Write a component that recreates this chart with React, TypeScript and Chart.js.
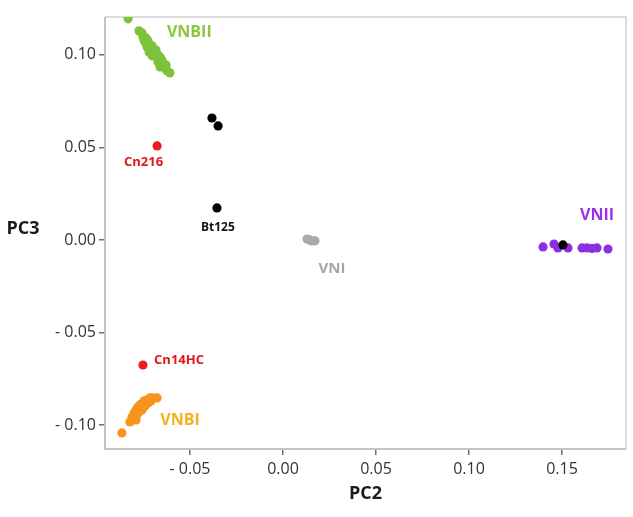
import React, { useEffect, useRef } from "react";
import { Chart, registerables } from "chart.js";

Chart.register(...registerables);

// ---- data (PC2, PC3) ----
const vnbiiX = [-0.0833, -0.0774, -0.0758, -0.0753, -0.0737, -0.0742, -0.0726, -0.0715, -0.0731, -0.0710, -0.0699, -0.0720, -0.0694, -0.0683, -0.0704, -0.0677, -0.0667, -0.0672, -0.0656, -0.0645, -0.0661, -0.0634, -0.0624, -0.0608, -0.0672, -0.0747, -0.0704, -0.0683, -0.0661, -0.0651, -0.0629];
const vnbiiY = [0.1195, 0.1130, 0.1119, 0.1097, 0.1092, 0.1070, 0.1076, 0.1054, 0.1043, 0.1038, 0.1027, 0.1016, 0.1005, 0.1011, 0.0995, 0.0984, 0.0973, 0.0962, 0.0957, 0.0941, 0.0935, 0.0930, 0.0914, 0.0903, 0.1000, 0.1081, 0.1049, 0.1027, 0.0989, 0.0973, 0.0946];

const vnbiX = [-0.0866, -0.0823, -0.0812, -0.0801, -0.0790, -0.0780, -0.0769, -0.0758, -0.0747, -0.0731, -0.0715, -0.0699, -0.0677, -0.0806, -0.0785, -0.0763, -0.0796, -0.0742, -0.0774, -0.0726, -0.0758, -0.0737, -0.0790, -0.0710];
const vnbiY = [-0.1043, -0.0984, -0.0957, -0.0935, -0.0919, -0.0903, -0.0892, -0.0886, -0.0870, -0.0865, -0.0854, -0.0854, -0.0854, -0.0973, -0.0946, -0.0919, -0.0962, -0.0897, -0.0930, -0.0881, -0.0919, -0.0886, -0.0973, -0.0870];

const vniiX = [0.1398, 0.1457, 0.1478, 0.1532, 0.1608, 0.1634, 0.1661, 0.1688, 0.1747];
const vniiY = [-0.0038, -0.0022, -0.0043, -0.0043, -0.0043, -0.0043, -0.0046, -0.0043, -0.0049];

const vniX = [0.0129, 0.0145, 0.0161, 0.0172, 0.0150];
const vniY = [0.0005, 0.0000, -0.0005, -0.0005, -0.0005];

const redX = [-0.0677, -0.0753];
const redY = [0.0508, -0.0676];

const blackX = [-0.0382, -0.0349, -0.0355, 0.1505];
const blackY = [0.0659, 0.0616, 0.0173, -0.0027];

// ---- axes ----
const xTicks = [-0.05, 0.0, 0.05, 0.1, 0.15];
const yTicks = [-0.1, -0.05, 0.0, 0.05, 0.1];
const xRange = [-0.0957, 0.1844];
const yRange = [-0.113, 0.1205];
const xTitle = "PC2";
const yTitle = "PC3";

// ---- annotation labels ----
const labelText = ["VNBII", "Cn216", "Bt125", "VNI", "VNII", "Cn14HC", "VNBI"];
const labelX = [-0.0624, -0.0750, -0.0350, 0.0263, 0.1688, -0.0559, -0.0554];
const labelY = [0.1119, 0.0422, 0.0065, -0.0157, 0.0135, -0.0649, -0.0978];
const labelColor = ["#8cc63f", "#e3151b", "#111111", "#a6a6a6", "#9b30e8", "#e3151b", "#f5b120"];
const labelSize = [16, 13, 12, 15, 16, 13, 16];
const labelAlign = ["left", "center", "center", "center", "center", "center", "center"];

const zip = (xs: number[], ys: number[]) => xs.map((x, i) => ({ x, y: ys[i] }));
const fmt = (v: number) => (v < 0 ? "- " + Math.abs(v).toFixed(2) : v.toFixed(2));
const FONT = "'Open Sans', 'DejaVu Sans', sans-serif";

const decor = {
  id: "decor",
  beforeDatasetsDraw(chart: any) {
    const { ctx, chartArea: a } = chart;
    ctx.save();
    ctx.lineWidth = 2;
    ctx.strokeStyle = "#dcdcdc";
    ctx.beginPath();
    ctx.moveTo(a.left, a.top);
    ctx.lineTo(a.right, a.top);
    ctx.lineTo(a.right, a.bottom);
    ctx.stroke();
    ctx.strokeStyle = "#c4c4c4";
    ctx.beginPath();
    ctx.moveTo(a.left, a.top);
    ctx.lineTo(a.left, a.bottom);
    ctx.lineTo(a.right, a.bottom);
    ctx.stroke();
    ctx.restore();
  },
  afterDatasetsDraw(chart: any) {
    const { ctx, chartArea: a, scales } = chart;
    ctx.save();
    ctx.textBaseline = "middle";
    labelText.forEach((t, i) => {
      ctx.font = `bold ${labelSize[i]}px ${FONT}`;
      ctx.fillStyle = labelColor[i];
      ctx.textAlign = labelAlign[i];
      ctx.fillText(t, scales.x.getPixelForValue(labelX[i]), scales.y.getPixelForValue(labelY[i]));
    });
    ctx.font = `bold 18px ${FONT}`;
    ctx.fillStyle = "#1a1a1a";
    ctx.textAlign = "center";
    ctx.fillText(xTitle, (a.left + a.right) / 2, 494);
    ctx.fillText(yTitle, 23, (a.top + a.bottom) / 2 - 4);
    ctx.restore();
  },
};

export default function App() {
  const ref = useRef<HTMLCanvasElement>(null);
  useEffect(() => {
    document.body.style.margin = "0";
    const ds = (data: any[], color: string) => ({
      data,
      backgroundColor: color,
      borderWidth: 0,
      pointRadius: 4.6,
      pointHoverRadius: 4.6,
    });
    const tickFont = { family: FONT, size: 16 };
    // first dataset is drawn on top in Chart.js
    const chart = new Chart(ref.current!, {
      type: "scatter",
      data: {
        datasets: [
          ds(zip(blackX, blackY), "#000000"),
          ds(zip(redX, redY), "#ee1c24"),
          ds(zip(vniX, vniY), "#aaaaaa"),
          ds(zip(vniiX, vniiY), "#8d2ee3"),
          ds(zip(vnbiX, vnbiY), "#f7941d"),
          ds(zip(vnbiiX, vnbiiY), "#7dc23a"),
        ],
      },
      options: {
        animation: false,
        responsive: false,
        devicePixelRatio: 1,
        layout: { padding: { top: 17, right: 7, left: 0, bottom: 0 } },
        plugins: { legend: { display: false }, tooltip: { enabled: false } },
        scales: {
          x: {
            type: "linear",
            min: xRange[0],
            max: xRange[1],
            afterBuildTicks: (s: any) => {
              s.ticks = xTicks.map((v) => ({ value: v }));
            },
            afterFit: (s: any) => {
              s.height = 68;
            },
            ticks: { callback: (v: any) => fmt(Number(v)), font: tickFont, color: "#333333", padding: 5, maxRotation: 0 },
            grid: { drawOnChartArea: false, drawTicks: true, tickLength: 6, color: "#6f6f6f", lineWidth: 1.5 },
            border: { display: false },
          },
          y: {
            type: "linear",
            min: yRange[0],
            max: yRange[1],
            afterBuildTicks: (s: any) => {
              s.ticks = yTicks.map((v) => ({ value: v }));
            },
            afterFit: (s: any) => {
              s.width = 105;
            },
            ticks: { callback: (v: any) => fmt(Number(v)), font: tickFont, color: "#333333", padding: 3 },
            grid: { drawOnChartArea: false, drawTicks: true, tickLength: 6, color: "#6f6f6f", lineWidth: 1.5 },
            border: { display: false },
          },
        },
      } as any,
      plugins: [decor],
    });
    return () => chart.destroy();
  }, []);
  return (
    <div style={{ width: 633, height: 517, background: "#fff" }}>
      <canvas ref={ref} width={633} height={517} />
    </div>
  );
}
